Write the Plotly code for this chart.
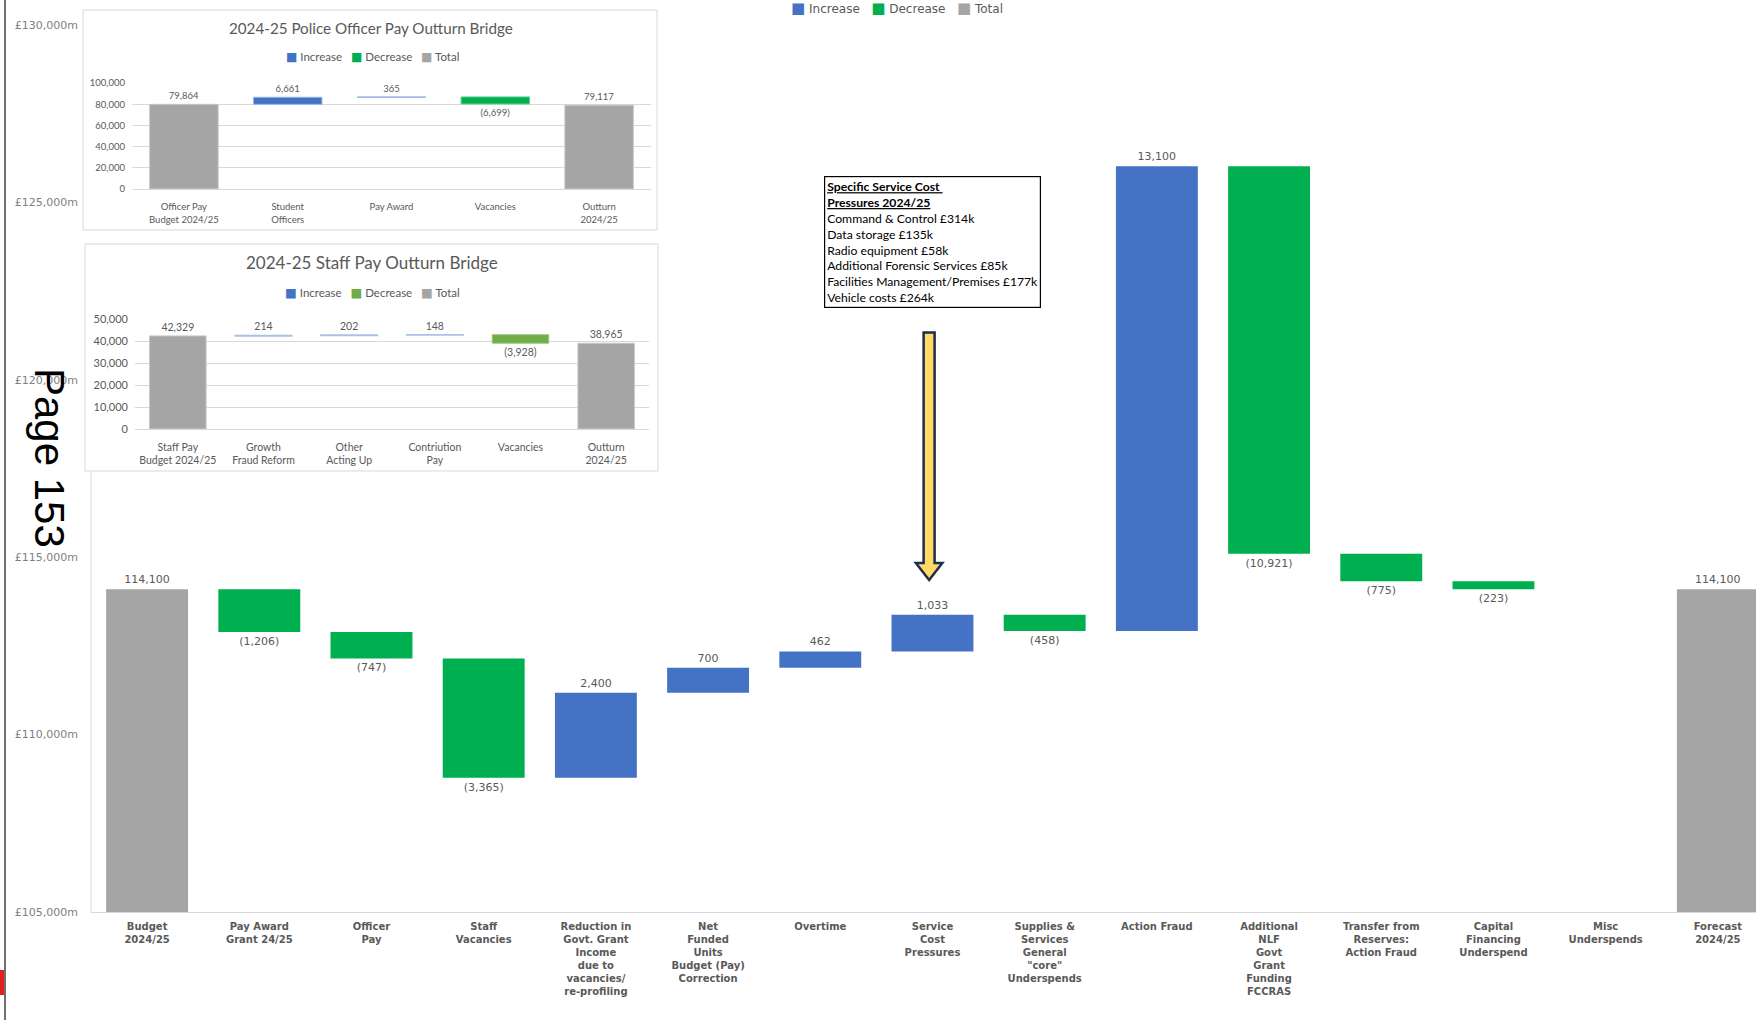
import plotly.graph_objects as go

# ---------------- data ----------------
# Main bridge: 2024/25 budget to forecast outturn (£k)
categories = [
    "Budget<br>2024/25",
    "Pay Award<br>Grant 24/25",
    "Officer<br>Pay",
    "Staff<br>Vacancies",
    "Reduction in<br>Govt. Grant<br>Income<br>due to<br>vacancies/<br>re-profiling",
    "Net<br>Funded<br>Units<br>Budget (Pay)<br>Correction",
    "Overtime",
    "Service<br>Cost<br>Pressures",
    "Supplies &<br>Services<br>General<br>\"core\"<br>Underspends",
    "Action Fraud",
    "Additional<br>NLF<br>Govt<br>Grant<br>Funding<br>FCCRAS",
    "Transfer from<br>Reserves:<br>Action Fraud",
    "Capital<br>Financing<br>Underspend",
    "Misc<br>Underspends",
    "Forecast<br>2024/25",
]
measures = ["absolute"] + ["relative"] * 13 + ["absolute"]
values = [114100, -1206, -747, -3365, 2400, 700, 462, 1033, -458,
          13100, -10921, -775, -223, 0, 114100]
main_ticks = [105000, 110000, 115000, 120000, 125000, 130000]

# Inset: police officer pay bridge
officer_categories = ["Officer Pay<br>Budget 2024/25", "Student<br>Officers",
                      "Pay Award", "Vacancies", "Outturn<br>2024/25"]
officer_measures = ["absolute", "relative", "relative", "relative", "absolute"]
officer_values = [79864, 6661, 365, -6699, 79117]

# Inset: staff pay bridge
staff_categories = ["Staff Pay<br>Budget 2024/25", "Growth<br>Fraud Reform",
                    "Other<br>Acting Up", "Contriution<br>Pay", "Vacancies",
                    "Outturn<br>2024/25"]
staff_measures = ["absolute", "relative", "relative", "relative", "relative", "absolute"]
staff_values = [42329, 214, 202, 148, -3928, 38965]

pressures_title = ["Specific Service Cost ", "Pressures 2024/25"]
pressures_items = ["Command & Control £314k", "Data storage £135k", "Radio equipment £58k",
                   "Additional Forensic Services £85k",
                   "Facilities Management/Premises £177k", "Vehicle costs £264k"]

legend_names = ["Increase", "Decrease", "Total"]

# ---------------- styling ----------------
BLUE = "#4472C4"
GREEN = "#00B050"
GREEN_LIGHT = "#70AD47"
GREY = "#A5A5A5"
LABEL = "#595959"

W, H = 1756, 1020
L, R, T, B = 91, 0, 25, 108
PW, PH = W - L - R, H - T - B


def px(x):
    """page pixel x -> paper x"""
    return (x - L) / PW


def py(y):
    """page pixel y -> paper y"""
    return (H - B - y) / PH


def bridge_label(v):
    if v == 0:
        return ""
    return f"{v:,}" if v > 0 else f"({-v:,})"


def legend_text(colors, swatch):
    parts = [f'<span style="color:{c};font-family:DejaVu Sans;font-size:{swatch}px">■</span>&nbsp;{n}'
             for n, c in zip(legend_names, colors)]
    return "&nbsp;&nbsp;&nbsp;".join(parts)


fig = go.Figure()

# main waterfall
fig.add_trace(go.Waterfall(
    x=list(range(len(categories))), y=values, measure=measures,
    text=[bridge_label(v) for v in values], textposition="outside",
    textfont=dict(family="DejaVu Sans", size=11, color=LABEL),
    width=0.73, cliponaxis=False, showlegend=False,
    increasing=dict(marker=dict(color=BLUE)),
    decreasing=dict(marker=dict(color=GREEN)),
    totals=dict(marker=dict(color=GREY)),
    connector=dict(visible=False),
    xaxis="x", yaxis="y",
))

# police officer pay inset
fig.add_trace(go.Waterfall(
    x=officer_categories, y=officer_values, measure=officer_measures,
    text=[bridge_label(v) for v in officer_values], textposition="outside",
    textfont=dict(family="Lato", size=9.5, color=LABEL),
    width=0.66, cliponaxis=False, showlegend=False,
    increasing=dict(marker=dict(color=BLUE, line=dict(color="#9DB5E3", width=1))),
    decreasing=dict(marker=dict(color=GREEN, line=dict(color="#66D096", width=1))),
    totals=dict(marker=dict(color=GREY, line=dict(color="#C8C8C8", width=1))),
    connector=dict(visible=False),
    xaxis="x2", yaxis="y2",
))

# staff pay inset
fig.add_trace(go.Waterfall(
    x=staff_categories, y=staff_values, measure=staff_measures,
    text=[bridge_label(v) for v in staff_values], textposition="outside",
    textfont=dict(family="Lato", size=10.5, color=LABEL),
    width=0.66, cliponaxis=False, showlegend=False,
    increasing=dict(marker=dict(color=BLUE, line=dict(color="#A9C0E8", width=1.5))),
    decreasing=dict(marker=dict(color=GREEN_LIGHT, line=dict(color="#9CCB7E", width=1))),
    totals=dict(marker=dict(color=GREY, line=dict(color="#C8C8C8", width=1))),
    connector=dict(visible=False),
    xaxis="x3", yaxis="y3",
))

# ---------------- decorations ----------------
shapes = []
# inset chart frames
for (x0, y0, x1, y1) in [(83, 10, 657, 230), (85, 244, 658, 471)]:
    shapes.append(dict(type="rect", xref="paper", yref="paper", layer="below",
                       x0=px(x0), x1=px(x1), y0=py(y1), y1=py(y0),
                       fillcolor="white", line=dict(color="#D9D9D9", width=1)))
# main value axis line (visible beneath the insets)
shapes.append(dict(type="line", xref="paper", yref="paper", layer="below",
                   x0=0, x1=0, y0=0, y1=py(472), line=dict(color="#D9D9D9", width=1)))
# page border line and margin mark
shapes.append(dict(type="line", xref="paper", yref="paper",
                   x0=px(5), x1=px(5), y0=py(H), y1=py(0),
                   line=dict(color="#404040", width=1.5)))
shapes.append(dict(type="rect", xref="paper", yref="paper",
                   x0=px(0), x1=px(4), y0=py(995), y1=py(970),
                   fillcolor="#E02020", line=dict(width=0)))

# arrow pointing at the service cost pressures bar
ax = 6.97
sh, hh = 0.049, 0.118
y_top, y_head, y_tip = 121330, 114836, 114357
arrow_path = (f"M {ax - sh},{y_top} L {ax + sh},{y_top} L {ax + sh},{y_head} "
              f"L {ax + hh},{y_head} L {ax},{y_tip} L {ax - hh},{y_head} "
              f"L {ax - sh},{y_head} Z")
shapes.append(dict(type="path", xref="x", yref="y", path=arrow_path,
                   fillcolor="#FFD966", line=dict(color="#1F2D4F", width=2.5)))

annotations = []
# inset titles
annotations.append(dict(xref="paper", yref="paper", x=px(371), y=py(28),
                        text="2024-25 Police Officer Pay Outturn Bridge", showarrow=False,
                        font=dict(family="Lato", size=15.2, color=LABEL),
                        xanchor="center", yanchor="middle"))
annotations.append(dict(xref="paper", yref="paper", x=px(372), y=py(262),
                        text="2024-25 Staff Pay Outturn Bridge", showarrow=False,
                        font=dict(family="Lato", size=17, color=LABEL),
                        xanchor="center", yanchor="middle"))
# legends
annotations.append(dict(xref="paper", yref="paper", x=px(897), y=py(8),
                        text=legend_text([BLUE, GREEN, GREY], 15), showarrow=False,
                        font=dict(family="DejaVu Sans", size=12, color=LABEL),
                        xanchor="center", yanchor="middle"))
annotations.append(dict(xref="paper", yref="paper", x=px(372), y=py(57),
                        text=legend_text([BLUE, GREEN, GREY], 12), showarrow=False,
                        font=dict(family="Lato", size=11.5, color=LABEL),
                        xanchor="center", yanchor="middle"))
annotations.append(dict(xref="paper", yref="paper", x=px(372), y=py(292),
                        text=legend_text([BLUE, GREEN_LIGHT, GREY], 12.5), showarrow=False,
                        font=dict(family="Lato", size=11.5, color=LABEL),
                        xanchor="center", yanchor="middle"))
# cost pressures note
note = "<br>".join([f"<b><u>{t}</u></b>" for t in pressures_title] + pressures_items)
annotations.append(dict(xref="paper", yref="paper", x=px(824), y=py(176),
                        xanchor="left", yanchor="top", align="left",
                        text=note, showarrow=False,
                        font=dict(family="Lato", size=12.2, color="black"),
                        bordercolor="black", borderwidth=1.2, borderpad=2,
                        bgcolor="white"))
# page number
annotations.append(dict(xref="paper", yref="paper", x=px(50), y=py(458),
                        text="Page 153", textangle=90, showarrow=False,
                        font=dict(family="Liberation Sans", size=42, color="black"),
                        xanchor="center", yanchor="middle"))

fig.update_layout(
    width=W, height=H,
    margin=dict(l=L, r=R, t=T, b=B, autoexpand=False),
    paper_bgcolor="white", plot_bgcolor="white",
    separators=".,",
    showlegend=False,
    shapes=shapes, annotations=annotations,
    xaxis=dict(domain=[0, 1], range=[-0.5, 14.34], tickmode="array",
               tickvals=list(range(len(categories))), ticktext=categories,
               showgrid=False, zeroline=False, showline=True, linecolor="#D9D9D9",
               ticks="", ticklabelstandoff=5,
               tickfont=dict(family="DejaVu Sans", size=10, color=LABEL, weight="bold")),
    yaxis=dict(domain=[0, 1], range=[105000, 130000], tickmode="array", tickvals=main_ticks,
               ticktext=[f"£{v:,}m" for v in main_ticks],
               showgrid=False, zeroline=False, showline=False, ticks="",
               ticklabelstandoff=12,
               tickfont=dict(family="DejaVu Sans", size=11, color="#808080")),
    xaxis2=dict(domain=[px(132), px(651)], anchor="y2", type="category",
                showgrid=False, zeroline=False, showline=True, linecolor="#D9D9D9",
                ticks="", ticklabelstandoff=9,
                tickfont=dict(family="Lato", size=9.5, color=LABEL)),
    yaxis2=dict(domain=[py(189), py(83)], anchor="x2", range=[0, 100000], dtick=20000,
                tickformat=",d", showgrid=True, gridcolor="#D9D9D9", zeroline=False,
                ticks="", ticklabelstandoff=6,
                tickfont=dict(family="Lato", size=9.5, color=LABEL)),
    xaxis3=dict(domain=[px(135), px(649)], anchor="y3", type="category",
                showgrid=False, zeroline=False, showline=True, linecolor="#D9D9D9",
                ticks="", ticklabelstandoff=8,
                tickfont=dict(family="Lato", size=10.5, color=LABEL)),
    yaxis3=dict(domain=[py(429), py(319)], anchor="x3", range=[0, 50000], dtick=10000,
                tickformat=",d", showgrid=True, gridcolor="#D9D9D9", zeroline=False,
                ticks="", ticklabelstandoff=6,
                tickfont=dict(family="Lato", size=11, color=LABEL)),
)

fig.write_html("out.html")
